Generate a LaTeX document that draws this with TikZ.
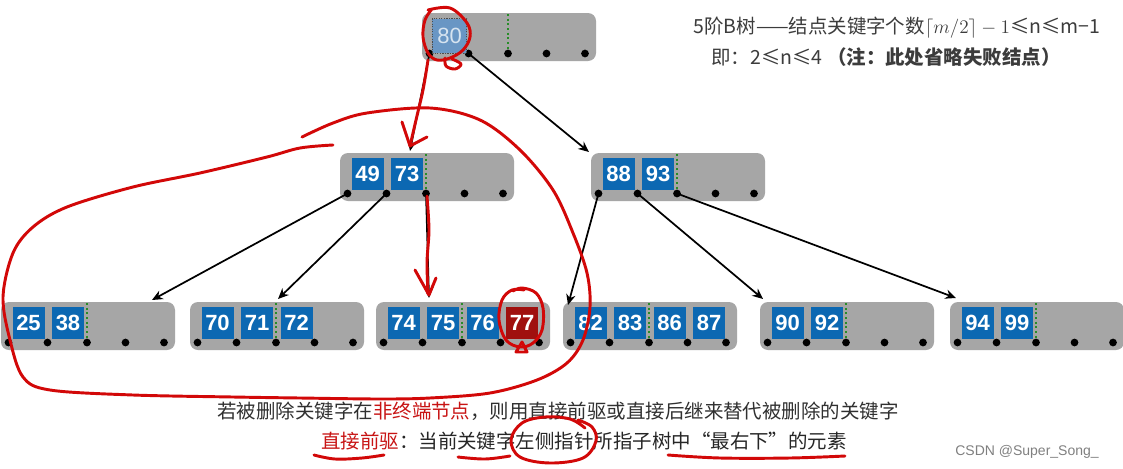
\documentclass[tikz,border=0pt]{standalone}
\usepackage{fontspec}
\setmainfont{Liberation Sans}
\newfontfamily\cjk{Noto Sans CJK SC}
\usetikzlibrary{calc,arrows.meta}
\definecolor{boxgray}{RGB}{166,166,166}
\definecolor{keyblue}{RGB}{12,104,178}
\definecolor{keyred}{RGB}{160,16,14}
\definecolor{fadeblue}{RGB}{105,150,196}
\definecolor{fadetext}{RGB}{215,228,240}
\definecolor{penred}{RGB}{210,8,8}
\definecolor{dotgreen}{RGB}{40,140,40}
\definecolor{txtgray}{RGB}{60,60,60}
\definecolor{txtred}{RGB}{200,20,20}
\tikzset{
  graybox/.style={fill=boxgray, rounded corners=6pt, minimum width=130.5pt, minimum height=36pt, inner sep=0pt, outer sep=0pt, anchor=north west},
  keybox/.style={fill=keyblue, text=white, minimum width=24pt, minimum height=24pt, inner sep=0pt, font=\fontsize{16.5}{16}\selectfont\bfseries},
  redkey/.style={keybox, fill=keyred},
  fadekey/.style={keybox, fill=fadeblue, text=fadetext, draw=black!70, densely dotted, line width=0.9pt, minimum width=26pt, minimum height=26pt, font=\fontsize{16.5}{16}\selectfont},
  ptr/.style={circle, fill=black, minimum size=5.8pt, inner sep=0pt},
  splitline/.style={dotgreen, dotted, line width=1.5pt},
  link/.style={black, line width=1.3pt, -{Stealth[length=8pt,width=7pt]}},
  pen/.style={penred, line width=2.2pt, line cap=round, line join=round},
  cjktext/.style={font=\cjk\fontsize{14.6}{17}\selectfont, inner sep=0pt},
  toptext/.style={font=\cjk\fontsize{14.6}{17}\selectfont, inner sep=0pt, text=txtgray},
}
\newcommand\btree[3]{% name, left, top
  \node[graybox] (#1) at (#2,#3) {};
  \coordinate (#1s) at ($(#1.north west)+(86,1)$);
  \coordinate (#1e) at ($(#1.north west)+(86,40.5)$);
  \draw[splitline] (#1s) -- (#1e);
  \foreach \i/\dx in {1/7.5,2/46.5,3/86,4/124.5,5/163}{\node[ptr] (#1p\i) at ($(#1.north west)+(\dx,40.5)$) {};}
}
\newcommand\bkey[5][keybox]{% style, name, box, offset, text
  \node[#1] (#2) at ($(#3.north west)+(#4,21)$) {#5};
}
\begin{document}
\begin{tikzpicture}[x=0.75pt, y=-0.75pt]
\fill[white] (0,0) rectangle (1123,468);
\useasboundingbox (0,0) rectangle (1123,468);

% tree nodes
\btree{R}{422}{13}
\btree{A}{340}{153}
\btree{B}{591}{153}
\btree{L1}{1}{302}
\btree{L2}{190}{302}
\btree{L3}{376}{302}
\btree{L4}{563}{302}
\btree{L5}{760}{302}
\btree{L6}{950}{302}

% keys
\node[fadekey] (k80) at ($(R.north west)+(27.5,23)$) {80};
\bkey{k49}{A}{27.5}{49}
\bkey{k73}{A}{67}{73}
\bkey{k88}{B}{27.5}{88}
\bkey{k93}{B}{67}{93}
\bkey{k25}{L1}{27.5}{25}
\bkey{k38}{L1}{67}{38}
\bkey{k70}{L2}{27.5}{70}
\bkey{k71}{L2}{67}{71}
\bkey{k72}{L2}{106.5}{72}
\bkey{k74}{L3}{27.5}{74}
\bkey{k75}{L3}{67}{75}
\bkey{k76}{L3}{106.5}{76}
\bkey[redkey]{k77}{L3}{146}{77}
\bkey{k82}{L4}{27.5}{82}
\bkey{k83}{L4}{67}{83}
\bkey{k86}{L4}{106.5}{86}
\bkey{k87}{L4}{146}{87}
\bkey{k90}{L5}{27.5}{90}
\bkey{k92}{L5}{67}{92}
\bkey{k94}{L6}{27.5}{94}
\bkey{k99}{L6}{67}{99}

% arrow targets
\coordinate (toA) at (410,151);
\coordinate (toB) at (589,152);
\coordinate (toL1) at (152,300);
\coordinate (toL2) at (278,299);
\coordinate (toL3) at (429,298);
\coordinate (toL4) at (568,305);
\coordinate (toL5) at (763,299);
\coordinate (toL6) at (956,298);

\draw[link] (Rp1.center) -- (toA);
\draw[link] (Rp2.center) -- (toB);
\draw[link] (Ap1.center) -- (toL1);
\draw[link] (Ap2.center) -- (toL2);
\draw[link] (Ap3.center) -- (toL3);
\draw[link] (Bp1.center) -- (toL4);
\draw[link] (Bp2.center) -- (toL5);
\draw[link] (Bp3.center) -- (toL6);

% texts
\node[toptext] (t1) at (897,28) {5阶B树——结点关键字个数$\lceil m/2\rceil - 1$≤n≤m−1};
\node[toptext] (t2) at (886,57) {即：2≤n≤4 \textbf{（注：此处省略失败结点）}};
\node[cjktext, text=txtgray!80!black] (b1) at (558,411) {若被删除关键字在\textcolor{txtred}{非终端节点}，则用直接前驱或直接后继来替代被删除的关键字};
\node[cjktext, text=black!85] (b2) at (584,441) {\textcolor{txtred}{直接前驱}：当前关键字左侧指针所指子树中“最右下”的元素};
\node[text=gray, font=\fontsize{10.5}{12}\selectfont, inner sep=0pt] (wm) at (1027,452) {CSDN @Super\_Song\_};

% red hand annotations
\draw[pen] plot[smooth, tension=0.6] coordinates {(428,10) (450,8) (467,23) (470,37) (463,50) (450,58) (437,60) (428,53) (423,37) (425,20) (432,9)};
\draw[pen] plot[smooth, tension=0.6] coordinates {(445,58) (446,66) (455,69) (461,64) (452,59)};
\draw[pen] plot[smooth, tension=0.6] coordinates {(428,60) (423,90) (416,120) (410,146)};
\draw[pen] (402,122) -- (410,146) -- (427,137);

\draw[pen] plot[smooth, tension=0.5] coordinates {(427,196) (429,230) (427,262) (428,294)};
\draw[pen] (415,270) -- (429,295) -- (436,278);

\draw[pen] plot[smooth, tension=0.6] coordinates {(513,291) (522,288) (536,293) (543,308) (542,330) (533,343) (520,347) (506,340) (499,320) (502,300) (512,290) (524,290)};
\draw[pen] (516,352) -- (527,352) -- (522,342) -- cycle;

\draw[pen] plot[smooth, tension=0.55] coordinates {(302,137) (333,123) (367,113) (430,108) (480,120) (520,150) (553,190) (573,233) (587,273) (590,307) (583,340) (567,363) (537,380) (490,393) (430,398) (380,399) (300,398) (233,397) (133,395) (50,390) (23,377) (10,340) (3,297) (13,253) (33,227) (67,207) (133,187) (200,173) (267,157) (300,148) (333,145)};

\draw[pen] plot[smooth, tension=0.6] coordinates {(314,455) (335,459) (362,458) (384,455)};
\draw[pen] plot[smooth, tension=0.6] coordinates {(458,457) (485,459) (510,456)};
\draw[pen] plot[smooth, tension=0.6] coordinates {(585,428) (570,419) (545,417) (522,423) (511,440) (520,457) (550,463) (583,458) (596,441) (592,427) (578,420)};
\draw[pen] plot[smooth, tension=0.6] coordinates {(668,455) (720,458) (790,458) (845,456)};
\end{tikzpicture}
\end{document}
